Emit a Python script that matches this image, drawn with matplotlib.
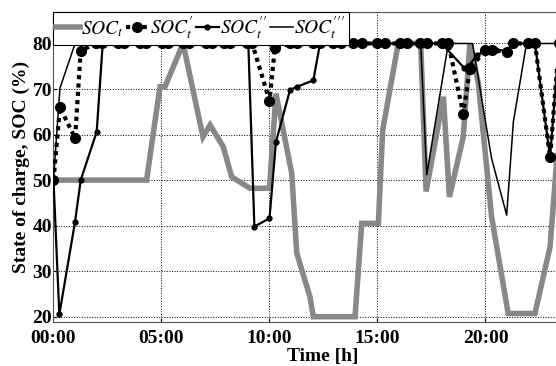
import matplotlib
matplotlib.use('Agg')
import matplotlib.pyplot as plt

# SOC_t (grey thick line)
t_soc = [0, 4.31, 4.93, 5.16, 6.0, 6.92, 7.25, 7.86, 8.25, 9.1, 10.0, 10.3, 11.03, 11.26,
         11.87, 12.03, 13.96, 14.27, 15.04, 15.24, 15.96, 17.0, 17.25, 18.05, 18.33, 18.97,
         19.28, 19.67, 20.28, 21.05, 22.29, 22.99, 23.26, 23.6]
v_soc = [50, 50, 70.5, 70.5, 80, 59.5, 62.1, 57.3, 50.7, 48.2, 48.2, 69, 51.5, 34,
         24.4, 20, 20, 40.5, 40.5, 61, 80, 80, 47.5, 68.3, 46.3, 59.5,
         80, 71.2, 42, 20.7, 20.7, 35.4, 52, 75]

# SOC'_t (dashed, big markers)
t_soc1 = [0, 0.3, 1.0, 1.26, 1.96, 2.26, 2.98, 3.28, 3.99, 4.29, 5.01, 5.31, 5.99, 6.29,
          7.05, 7.35, 7.88, 8.18, 8.95, 9.2, 10.0, 10.25, 10.95, 11.27, 12.0, 12.34,
          12.94, 13.33, 13.86, 14.28, 14.97, 15.34, 16.04, 16.37, 16.97, 17.28, 17.97,
          18.28, 18.97, 19.28, 19.98, 20.3, 20.98, 21.29, 21.98, 22.29, 22.99, 23.4]
v_soc1 = [50, 66, 59.2, 78.4, 80, 80, 80, 80, 80, 80, 80, 80, 80, 80,
          80, 80, 80, 80, 80, 80, 67.4, 79.1, 80, 80, 80, 80,
          80, 80, 80, 80, 80, 80, 80, 80, 80, 80, 80,
          80, 64.6, 74.5, 78.5, 78.5, 78.2, 80, 80, 80, 55, 80]

# SOC''_t (solid, small markers)
t_soc2 = [0, 0.27, 1.0, 1.26, 2.0, 2.28, 9.02, 9.3, 10.0, 10.3, 10.95, 11.27, 12.03,
          12.34, 17.97, 19.0, 19.2, 19.6, 20.0, 20.5, 20.98, 21.29, 22.29, 22.99, 23.4]
v_soc2 = [50, 20.5, 40.9, 50, 60.6, 80, 80, 39.8, 41.6, 58.4, 69.8, 70.5, 71.9,
          80, 80, 74.7, 75, 77.4, 78.5, 78.5, 78.5, 80, 80, 55, 80]

# SOC'''_t (thin solid)
t_soc3 = [0, 0.3, 1.0, 17.0, 17.28, 18.28, 19.4, 20.28, 20.98, 21.29, 21.9, 24]
v_soc3 = [50, 70.2, 80, 80, 51.2, 80, 80, 54.8, 42.3, 62.8, 80, 80]

xticks = [0, 5, 10, 15, 20]
xtick_labels = ['00:00', '05:00', '10:00', '15:00', '20:00']
yticks = [20, 30, 40, 50, 60, 70, 80]

plt.rcParams['font.family'] = ['Liberation Serif', 'DejaVu Serif']
plt.rcParams['mathtext.fontset'] = 'stix'

fig = plt.figure(figsize=(5.56, 3.66), dpi=100)
ax = fig.add_axes([0.0962, 0.121, 0.9324, 0.846])

ax.plot(t_soc, v_soc, color='#888888', lw=4, solid_joinstyle='miter', label=r'$SOC_t$', zorder=2)
ax.plot(t_soc1, v_soc1, color='black', lw=3, linestyle=(0, (1, 1)), marker='o', markersize=7,
        label=r"$SOC_t^{\prime}$", zorder=3)
ax.plot(t_soc2, v_soc2, color='black', lw=1.6, marker='o', markersize=3.5,
        label=r"$SOC_t^{\prime\prime}$", zorder=4)
ax.plot(t_soc3, v_soc3, color='black', lw=1.1, label=r"$SOC_t^{\prime\prime\prime}$", zorder=4)

ax.set_xlim(0, 24)
ax.set_ylim(18.9, 86.9)
ax.set_xticks(xticks)
ax.set_xticklabels(xtick_labels)
ax.set_yticks(yticks)
ax.tick_params(direction='in', length=3, labelsize=14)
ax.tick_params(axis='x', pad=6)
ax.tick_params(axis='y', pad=1)
for lab in ax.get_xticklabels() + ax.get_yticklabels():
    lab.set_fontweight('bold')
ax.grid(True, color='black', linestyle=':', lw=0.7)
for s in ax.spines.values():
    s.set_color('#555555')

ax.set_xlabel('Time [h]', fontsize=14, fontweight='bold')
ax.set_ylabel('State of charge, SOC (%)', fontsize=14, fontweight='bold', labelpad=2)
ax.xaxis.set_label_coords(0.52, -0.085)

leg = ax.legend(loc='upper left', bbox_to_anchor=(0, 1), borderaxespad=0, ncol=4,
                fontsize=14, handlelength=1.2, handletextpad=0.05, columnspacing=0.1,
                borderpad=0.15, fancybox=False, framealpha=1)
leg.get_frame().set_edgecolor('black')
leg.get_frame().set_linewidth(0.8)

fig.savefig('out.png', dpi=100)
